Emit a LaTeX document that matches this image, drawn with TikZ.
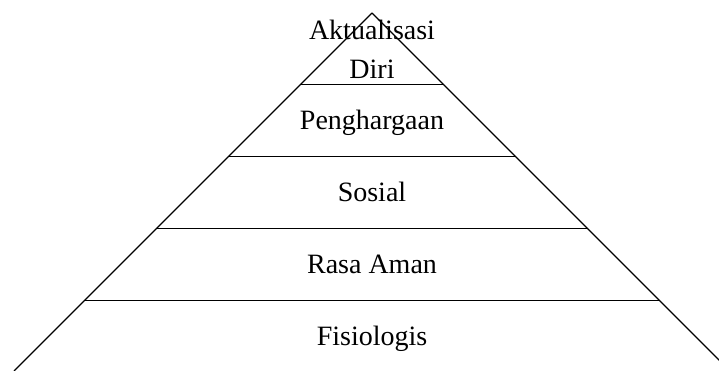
\documentclass[tikz,border=0pt]{standalone}
\usepackage{fontspec}
\setmainfont{Liberation Serif}
\newlength\tier
\setlength\tier{71.8pt}

\begin{document}
\begin{tikzpicture}[x=1pt,y=1pt,line width=1.2pt,
    tiertext/.style={anchor=base,font=\fontsize{28}{34}\selectfont}]
  \useasboundingbox (0,0) rectangle (719,371);
  \coordinate (apex) at (372,358);

  % sides
  \begin{scope}
    \clip (0,0) rectangle (719,371);
    \draw (apex) -- ++(-358,-358) coordinate (bl);
    \draw (apex) -- ++(358,-358) coordinate (br);
  \end{scope}

  % tier lines
  \foreach \k in {1,...,4} {
    \draw (apex) ++(-\k*\tier,-\k*\tier) -- ++(2*\k*\tier,0);
  }

  % labels
  \node[tiertext] (aktualisasi) at (372,331) {Aktualisasi};
  \node[tiertext] (diri) at (372,292) {Diri};
  \foreach[count=\i] \n/\t in {pengh/Penghargaan,sosial/Sosial,aman/Rasa Aman,fisio/Fisiologis} {
    \node[tiertext] (\n) at (372pt,313pt-\i*\tier) {\t};
  }
\end{tikzpicture}
\end{document}
